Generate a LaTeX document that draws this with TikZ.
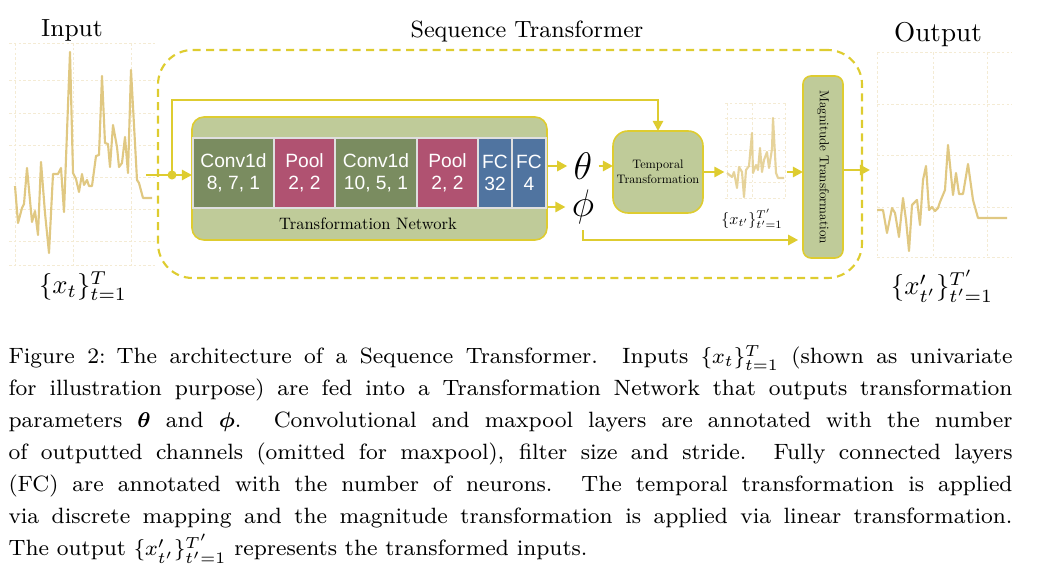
\documentclass[tikz,border=0pt]{standalone}
\usepackage{amsmath}
\usepackage{fontspec}
\newfontfamily\sansf{Liberation Sans}
\newfontfamily\lmten[Extension=.otf]{lmroman10-regular}
\usetikzlibrary{arrows.meta,fit,calc}
\definecolor{ycol}{RGB}{222,204,48}
\definecolor{tnfill}{RGB}{191,203,153}
\definecolor{convc}{RGB}{122,140,96}
\definecolor{poolc}{RGB}{176,82,113}
\definecolor{fcc}{RGB}{80,116,160}
\definecolor{serc}{RGB}{224,200,130}
\definecolor{gridc}{RGB}{244,235,212}
\begin{document}
\begin{tikzpicture}[x=0.375pt,y=-0.375pt,
  conn/.style={draw=ycol,line width=1.1pt},
  arr/.style={conn,-{Triangle[length=3.8pt,width=3.8pt]}},
  gridl/.style={draw=gridc,line width=0.35pt,dash pattern=on 1pt off 0.8pt},
  series/.style={draw=serc,line width=0.8pt,line join=round},
  layer/.style={inner sep=0,outer sep=0,minimum height=70*0.375pt,draw=white!75!gray,line width=0.4pt,text=white,font=\sansf\fontsize{7.2}{8.4}\selectfont,align=center},
  gbox/.style={draw=ycol,line width=0.6pt,fill=tnfill,inner sep=0,outer sep=0},
  ttl/.style={inner sep=0}
]
\useasboundingbox (0,0) rectangle (1042,576);

% ---------- Input plot ----------
\foreach \y in {43,80,113,145,177,209,241,265} \draw[gridl] (9,\y) -- (155,\y);
\foreach \x in {15,73,131} \draw[gridl] (\x,43) -- (\x,265);
\draw[series] plot coordinates {(15,186) (18,223) (22,208) (24,204) (27,168) (32,222) (35,211) (38,235) (41,162) (45,213) (49,253) (53,174) (58,174) (61,168) (64,212) (70,52) (73,173) (76,179) (79,192) (82,174) (84,185) (87,180) (89,186) (92,186) (96,156) (99,155) (102,76) (105,143) (108,144) (110,167) (113,125) (117,147) (119,167) (122,163) (125,137) (128,173) (131,70) (137,180) (139,183) (143,198) (152,198)};
\node[fit={(9,43)(155,265)},inner sep=0] (inplot) {};
\node[ttl,font=\fontsize{9.3}{11}\selectfont] (intitle) at (72,30) {Input};
\node[ttl,font=\fontsize{10}{12}\selectfont] (inlabel) at (83,286) {$\{x_t\}_{t=1}^{T}$};

% ---------- Sequence Transformer frame ----------
\node[fit={(158,50)(862,278)},inner sep=0,draw=ycol,line width=0.8pt,dash pattern=on 3pt off 2pt,rounded corners=13pt] (seqbox) {};
\node[ttl,font=\fontsize{8.8}{11}\selectfont] (seqtitle) at (527,32) {Sequence Transformer};

% ---------- Transformation Network ----------
\node[gbox,rounded corners=12*0.375pt,minimum width=355*0.375pt,minimum height=123*0.375pt] (tn) at (369.5,178.5) {};
\node[layer,fill=convc,minimum width=81*0.375pt] (conv1) at (233.5,173) {Conv1d\\8, 7, 1};
\node[layer,fill=poolc,minimum width=61*0.375pt] (pool1) at (304.5,173) {Pool\\2, 2};
\node[layer,fill=convc,minimum width=82*0.375pt] (conv2) at (376,173) {Conv1d\\10, 5, 1};
\node[layer,fill=poolc,minimum width=61*0.375pt] (pool2) at (447.5,173) {Pool\\2, 2};
\node[layer,fill=fcc,minimum width=34*0.375pt] (fc1) at (495,173) {FC\\32};
\node[layer,fill=fcc,minimum width=34*0.375pt] (fc2) at (529,173) {FC\\4};
\node[ttl,font=\lmten\fontsize{6.2}{7}\selectfont] (tnlabel) at (368,224) {Transformation Network};

% ---------- theta / phi ----------
\node[font=\fontsize{14}{14}\selectfont,inner sep=2.2pt] (theta) at (583,166) {$\theta$};
\node[font=\fontsize{14}{14}\selectfont,inner sep=2.2pt] (phi) at (583,207) {$\phi$};

% ---------- Temporal Transformation ----------
\node[gbox,rounded corners=15*0.375pt,minimum width=90*0.375pt,minimum height=82*0.375pt,align=center,font=\lmten\fontsize{4.6}{5.8}\selectfont] (temp) at (658,172) {Temporal\\Transformation};

% ---------- middle plot ----------
\foreach \y in {103,118,134,150,166,182,198} \draw[gridl] (725,\y) -- (786,\y);
\foreach \x in {727,752,785} \draw[gridl] (\x,103) -- (\x,198);
\draw[series,opacity=0.8] plot coordinates {(727,173) (732,177) (734,172) (737,188) (739,167) (742,172) (744,197) (746,170) (749,166) (752,133) (753,173) (756,165) (758,170) (760,148) (762,172) (764,160) (767,152) (769,168) (772,149) (773,118) (776,173) (778,178) (784,178)};
\node[fit={(725,103)(786,198)},inner sep=0] (midplot) {};
\node[ttl] (midlabel) at (752,219) {\scalebox{0.6}{$\{x_{t'}\}_{t'=1}^{T'}$}};

% ---------- Magnitude Transformation ----------
\node[gbox,rounded corners=8*0.375pt,minimum width=40*0.375pt,minimum height=182*0.375pt] (mag) at (823,167) {};
\node[ttl,rotate=-90,font=\lmten\fontsize{4.9}{6}\selectfont] (magtext) at (mag.center) {Magnitude Transformation};

% ---------- Output plot ----------
\foreach \y in {52,104,155,207,257} \draw[gridl] (877,\y) -- (1012,\y);
\foreach \x in {877,933,987} \draw[gridl] (\x,52) -- (\x,257);
\draw[series] plot coordinates {(877,210) (883,210) (887,233) (892,208) (895,213) (899,237) (903,198) (906,220) (909,251) (912,205) (917,200) (920,225) (923,180) (926,166) (929,210) (932,207) (935,211) (938,208) (940,202) (945,190) (948,145) (953,195) (956,173) (959,194) (963,194) (968,164) (973,200) (978,218) (1007,218)};
\node[fit={(877,52)(1012,257)},inner sep=0] (outplot) {};
\node[ttl,font=\fontsize{10.2}{12}\selectfont] (outtitle) at (938,35) {Output};
\node[ttl,font=\fontsize{10}{12}\selectfont] (outlabel) at (942,286) {$\{x'_{t'}\}_{t'=1}^{T'}$};

% ---------- connectors ----------
\coordinate (instart) at (146,175);
\coordinate (junc) at (172,175);
\draw[conn] (instart) -- (junc);
\draw[arr] (junc) -- (junc -| tn.west);
\draw[arr] (junc) |- (temp.north |- 0,100) -- (temp.north);
\fill[ycol] (junc) circle (1.7pt);
\draw[arr] (tn.east |- theta) -- (theta.west);
\draw[arr] (tn.east |- phi) -- (phi.west);
\draw[arr] (theta.east) -- (theta.east -| temp.west);
\draw[arr] (temp.east) -- (temp.east -| midplot.west);
\draw[arr] (midplot.east |- temp.east) -- (mag.west |- temp.east);
\draw[arr,shorten >=1.8pt] (phi.south) |- (mag.west |- 0,240);
\coordinate (outend) at (870,170);
\draw[arr] (mag.east |- outend) -- (outend);

% ---------- caption ----------
\node[anchor=north west,inner sep=0,text width=1004*0.375pt,align=justify,font=\fontsize{8.3}{12}\selectfont] (caption) at (8,341.7) {\lineskiplimit=-20pt\rule{0pt}{8pt}Figure 2:\enspace The architecture of a Sequence Transformer. Inputs $\{x_t\}_{t=1}^{T}$ (shown as univariate\linebreak
for illustration purpose) are fed into a Transformation Network that outputs transformation\linebreak
parameters $\boldsymbol{\theta}$ and $\boldsymbol{\phi}$. Convolutional and maxpool layers are annotated with the number\linebreak
of outputted channels (omitted for maxpool), filter size and stride. Fully connected layers\linebreak
(FC) are annotated with the number of neurons. The temporal transformation is applied\linebreak
via discrete mapping and the magnitude transformation is applied via linear transformation.\linebreak
The output $\{x'_{t'}\}_{t'=1}^{T'}$ represents the transformed inputs.};
\end{tikzpicture}
\end{document}
